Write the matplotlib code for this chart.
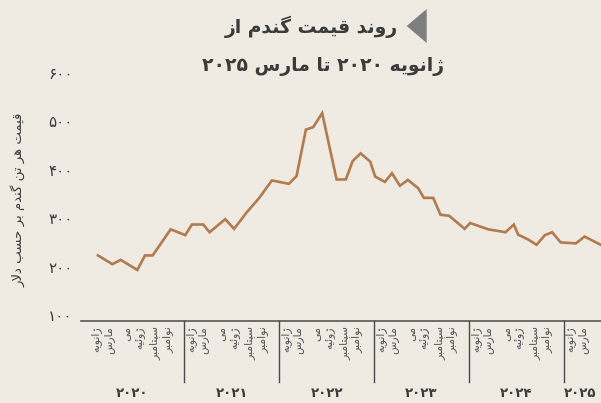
import re
import matplotlib
matplotlib.use("Agg")
import matplotlib.pyplot as plt
from matplotlib.patches import Polygon

# ---- data ----
# month index: 0 = Jan 2020, 12 = Jan 2021 ...
months = [1.09, 2.9, 3.96, 6.06, 7.03, 8.0, 10.28, 12.12, 12.97, 14.4,
          15.2, 17.18, 18.3, 19.89, 21.44, 23.08, 25.23, 26.2, 27.38, 28.3,
          29.44, 31.26, 32.44, 33.29, 34.3, 35.51, 36.14, 37.37, 38.26, 39.27,
          40.28, 41.58, 42.3, 43.48, 44.41, 45.5, 47.46, 48.15, 50.43, 52.63,
          53.68, 54.22, 55.49, 56.55, 57.6, 58.52, 59.6, 61.52, 62.62, 64.68]
price = [223, 205, 214, 193, 223, 223, 277, 265, 287, 287,
         271, 298, 278, 312, 341, 378, 371, 387, 483, 488,
         517, 380, 380, 418, 434, 417, 386, 375, 393, 367,
         379, 362, 342, 342, 307, 305, 278, 290, 277, 271,
         287, 266, 256, 245, 265, 271, 250, 248, 262, 245]

years = [2020, 2021, 2022, 2023, 2024, 2025]
month_names = ["ژانویه", "مارس", "می", "ژوئیه", "سپتامبر", "نوامبر"]
y_ticks = [100, 200, 300, 400, 500, 600]

title1 = "روند قیمت گندم از"
title2 = "ژانویه ۲۰۲۰ تا مارس ۲۰۲۵"
y_label = "قیمت هر تن گندم بر حسب دلار"

# ---- minimal Persian shaping (matplotlib has no bidi / joining) ----
FORMS = {
    'ا': ('\uFE8D', '\uFE8E', None, None),
    'ب': ('\uFE8F', '\uFE90', '\uFE91', '\uFE92'),
    'پ': ('\uFB56', '\uFB57', '\uFB58', '\uFB59'),
    'ت': ('\uFE95', '\uFE96', '\uFE97', '\uFE98'),
    'ح': ('\uFEA1', '\uFEA2', '\uFEA3', '\uFEA4'),
    'د': ('\uFEA9', '\uFEAA', None, None),
    'ر': ('\uFEAD', '\uFEAE', None, None),
    'ز': ('\uFEAF', '\uFEB0', None, None),
    'ژ': ('\uFB8A', '\uFB8B', None, None),
    'س': ('\uFEB1', '\uFEB2', '\uFEB3', '\uFEB4'),
    'ق': ('\uFED5', '\uFED6', '\uFED7', '\uFED8'),
    'گ': ('\uFB92', '\uFB93', '\uFB94', '\uFB95'),
    'ل': ('\uFEDD', '\uFEDE', '\uFEDF', '\uFEE0'),
    'م': ('\uFEE1', '\uFEE2', '\uFEE3', '\uFEE4'),
    'ن': ('\uFEE5', '\uFEE6', '\uFEE7', '\uFEE8'),
    'ه': ('\uFEE9', '\uFEEA', '\uFEEB', '\uFEEC'),
    'و': ('\uFEED', '\uFEEE', None, None),
    'ی': ('\uFBFC', '\uFBFD', '\uFBFE', '\uFBFF'),
    'ئ': ('\uFE89', '\uFE8A', '\uFE8B', '\uFE8C'),
}


def fa(text):
    chars = list(text)
    out = []
    i = 0
    while i < len(chars):
        c = chars[i]
        if c not in FORMS:
            out.append(c)
            i += 1
            continue
        prev = chars[i - 1] if i > 0 else None
        nxt = chars[i + 1] if i + 1 < len(chars) else None
        joins_prev = prev in FORMS and FORMS[prev][2] is not None
        if c == 'ل' and nxt == 'ا':
            out.append('\uFEFC' if joins_prev else '\uFEFB')
            i += 2
            continue
        joins_next = nxt in FORMS and FORMS[c][2] is not None
        iso, fin, ini, med = FORMS[c]
        if joins_prev and joins_next:
            out.append(med)
        elif joins_prev:
            out.append(fin)
        elif joins_next:
            out.append(ini)
        else:
            out.append(iso)
        i += 1
    s = ''.join(out)[::-1]
    return re.sub(r'[۰-۹0-9]+', lambda m: m.group()[::-1], s)


def fa_num(n):
    return str(n).translate(str.maketrans('0123456789', '۰۱۲۳۴۵۶۷۸۹'))


bg = '#efeae2'
line_c = '#b27b4f'
dark = '#3b3b3b'
grey = '#555555'

fig = plt.figure(figsize=(6.01, 4.03), dpi=100, facecolor=bg)
ax = fig.add_axes([81 / 601, 82 / 403, 520 / 601, 257.7 / 403])
ax.set_facecolor(bg)

ax.plot(months, price, color=line_c, lw=1.9, solid_joinstyle='miter')

ax.set_xlim(-1.06, 64.7)
ax.set_ylim(87.6, 620)
for s in ['top', 'right', 'left']:
    ax.spines[s].set_visible(False)
ax.spines['bottom'].set_color('#4a4a4a')
ax.spines['bottom'].set_linewidth(1.1)

ax.set_xticks([])
ax.set_yticks(y_ticks)
ax.set_yticklabels([fa_num(v) for v in y_ticks], fontsize=11, color=dark)
ax.tick_params(axis='y', length=0, pad=6)

ax.text(-0.12, 0.47, fa(y_label), transform=ax.transAxes, rotation=90,
        ha='center', va='center', fontsize=9.5, color=dark)

# month labels + year separators / labels
label_offsets = [0.8, 2.4, 4.8, 6.4, 8.3, 9.9]
tr = ax.get_xaxis_transform()
for k, yr in enumerate(years):
    start = 12 * k
    if k > 0:
        ax.plot([start, start], [0, -0.235], transform=tr, color='#4a4a4a',
                lw=1.0, clip_on=False)
    for name, off in zip(month_names, label_offsets):
        if start + off > 64.7:
            break
        ax.text(start + off, -0.02, fa(name), transform=tr, rotation=90,
                ha='center', va='top', fontsize=7.8, color=grey)
    centre = start + 6 if start + 12 < 64.7 else 62.1
    ax.text(centre - (0.6 if k == 0 else 0), -0.28, fa_num(yr), transform=tr,
            ha='center', va='center', fontsize=9.5, fontweight='bold', color=dark)

# title
fig.text(398 / 601, 1 - 27 / 403, fa(title1), ha='right', va='center',
         fontsize=13.5, fontweight='bold', color=dark)
fig.text(323 / 601, 1 - 67 / 403, fa(title2), ha='center', va='center',
         fontsize=13.5, fontweight='bold', color=dark)
tri = Polygon([(406.7 / 601, 1 - 26 / 403), (426.7 / 601, 1 - 9 / 403),
               (426.7 / 601, 1 - 43 / 403)], closed=True,
              transform=fig.transFigure, color='#7f7f7f', lw=0)
fig.add_artist(tri)

fig.savefig('out.png', dpi=100, facecolor=bg)
